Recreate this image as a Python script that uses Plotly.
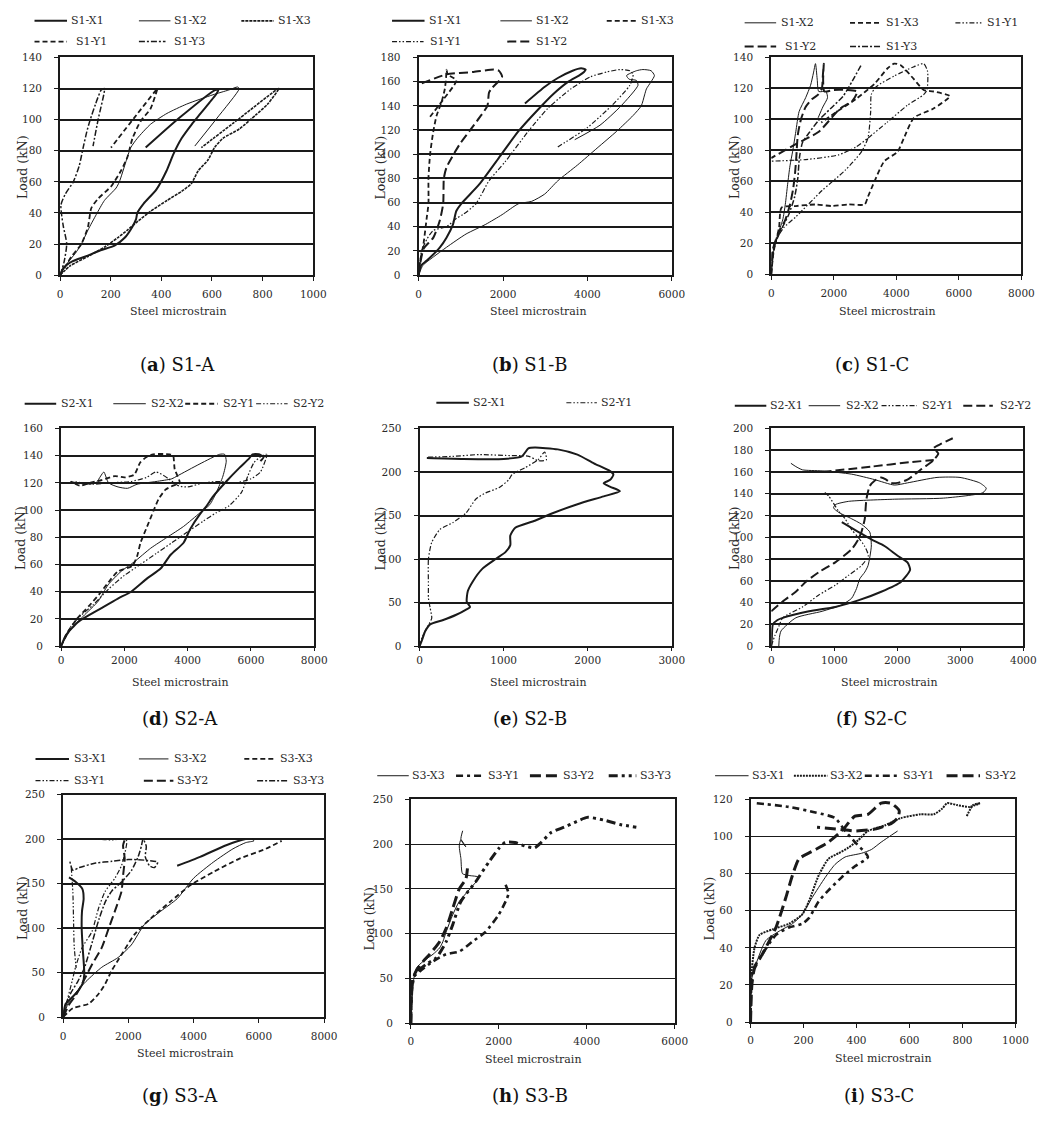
import plotly.graph_objects as go

W, H = 1060, 1129
FONT = "DejaVu Serif"
INK = "#1a1a1a"

# ---------------- (a) S1-A : load vs steel microstrain ----------------
s1a_x1 = [(0, 0), (15, 5), (50, 9), (100, 12), (160, 16), (215, 19), (255, 24), (285, 31), (300, 36),
          (305, 40), (330, 46), (380, 55), (420, 67), (448, 78), (480, 88), (520, 97), (555, 104),
          (590, 111), (615, 116), (625, 119), (612, 119), (470, 101), (338, 82)]
s1a_x2 = [(0, 0), (30, 8), (60, 14), (84, 20), (110, 29), (143, 39), (175, 48), (221, 56), (234, 60),
          (260, 73), (279, 82), (305, 88), (357, 97), (422, 104), (500, 110), (604, 116), (665, 119),
          (701, 121), (708, 120), (620, 101), (532, 83)]
s1a_x3 = [(0, 0), (40, 6), (110, 12), (175, 18), (227, 24), (266, 29), (310, 35), (357, 41), (422, 48),
          (481, 54), (519, 59), (545, 67), (584, 74), (610, 82), (643, 88), (708, 94), (773, 103),
          (820, 110), (864, 120), (710, 101), (558, 82)]
s1a_y1 = [(0, 0), (19, 5), (45, 12), (84, 20), (110, 31), (123, 43), (149, 49), (201, 57), (240, 67),
          (266, 76), (286, 88), (318, 99), (357, 107), (383, 119), (385, 120), (292, 101), (201, 82)]
s1a_y3 = [(0, 0), (15, 8), (26, 20), (12, 32), (3, 45), (20, 52), (52, 60), (75, 70), (91, 82),
          (105, 92), (117, 99), (140, 110), (162, 119), (175, 120), (150, 100), (130, 83)]

# ---------------- (b) S1-B ----------------
s1b_x1 = [(0, 0), (60, 8), (194, 12), (504, 23), (660, 31), (815, 42), (893, 53), (1009, 59), (1436, 75),
          (1902, 97), (2367, 119), (2833, 137), (3200, 150), (3550, 160), (3800, 165), (3920, 168),
          (3960, 170), (3850, 171), (3650, 169), (3300, 163), (3000, 156), (2520, 142)]
s1b_x2 = [(0, 0), (100, 8), (349, 15), (660, 23), (1125, 34), (1591, 42), (1979, 50), (2367, 59),
          (2678, 61), (2988, 67), (3299, 78), (3765, 91), (4230, 105), (4696, 119), (5084, 132),
          (5278, 140), (5356, 149), (5400, 154), (5511, 160), (5589, 165), (5511, 169), (5317, 170),
          (5162, 169), (4929, 165), (4990, 162), (5162, 161), (5200, 157), (4800, 140), (4300, 124),
          (3700, 112)]
s1b_x3 = [(0, 0), (40, 12), (116, 26), (194, 48), (233, 59), (233, 80), (272, 100), (349, 119),
          (427, 132), (543, 143), (621, 154), (650, 163), (660, 170), (690, 166), (893, 161),
          (580, 145), (272, 131)]
s1b_y1 = [(0, 0), (70, 20), (200, 30), (349, 37), (660, 40), (900, 47), (1048, 50), (1358, 59),
          (1669, 78), (2057, 94), (2600, 119), (3066, 138), (3610, 154), (4075, 164), (4463, 168),
          (4774, 170), (5006, 169), (5084, 166), (5006, 157), (4600, 141), (4000, 122), (3299, 106)]
s1b_y2 = [(0, 0), (40, 10), (120, 22), (349, 31), (500, 45), (582, 59), (598, 80), (660, 89), (970, 108),
          (1203, 119), (1436, 130), (1630, 140), (1669, 151), (1746, 155), (1979, 164), (1902, 169),
          (1785, 170), (1300, 168), (660, 166), (39, 158)]

# ---------------- (c) S1-C ----------------
s1c_x2 = [(0, 0), (50, 12), (200, 25), (367, 35), (450, 45), (524, 58), (600, 70), (682, 79), (786, 92),
          (891, 105), (1101, 114), (1258, 122), (1350, 130), (1415, 136), (1470, 126), (1520, 118),
          (1750, 118), (1800, 114), (1650, 108), (1500, 101)]
s1c_x3 = [(0, 0), (80, 15), (250, 30), (330, 43), (786, 44), (1415, 45), (1940, 44), (2464, 45),
          (2988, 45), (3093, 50), (3303, 60), (3617, 73), (4036, 79), (4246, 88), (4561, 101),
          (5190, 107), (5714, 115), (5190, 118), (4875, 119), (4561, 126), (4141, 135), (3931, 136),
          (3722, 133), (3303, 123), (2700, 113), (2100, 105), (1600, 98)]
s1c_y1 = [(0, 0), (100, 20), (400, 30), (786, 37), (1625, 54), (2359, 67), (2884, 79), (3093, 88),
          (3180, 105), (3198, 116), (3350, 121), (3931, 128), (4561, 134), (4875, 136), (5000, 131),
          (4980, 119), (4875, 116), (4351, 109), (3700, 98), (3100, 88), (2700, 82), (2150, 77),
          (1100, 74), (0, 73)]
s1c_y2 = [(0, 0), (40, 15), (200, 25), (450, 35), (600, 45), (700, 55), (760, 65), (800, 75), (850, 90),
          (950, 100), (1100, 108), (1300, 113), (1500, 116), (1620, 120), (1650, 128), (1680, 136),
          (1660, 125), (1700, 118), (2000, 119), (2400, 119), (2750, 118), (2600, 112), (2200, 107),
          (1520, 92), (786, 84), (0, 75)]
s1c_y3 = [(0, 0), (100, 18), (300, 28), (550, 38), (750, 50), (850, 62), (900, 75), (1000, 85),
          (1200, 91), (1500, 99), (1900, 107), (2300, 115), (2600, 125), (2900, 136)]

# ---------------- (d) S2-A ----------------
s2a_x1 = [(0, 0), (150, 8), (550, 18), (1276, 28), (1795, 35), (2210, 40), (2729, 50), (3144, 57),
          (3456, 67), (3871, 76), (4078, 86), (4389, 97), (4597, 103), (4804, 110), (5219, 121),
          (5634, 131), (5945, 138), (6048, 141), (6250, 141), (6400, 139), (6300, 136)]
s2a_x2 = [(0, 0), (300, 12), (700, 22), (1172, 33), (1484, 45), (1899, 55), (2314, 62), (2833, 72),
          (3351, 80), (3871, 88), (4389, 98), (4700, 104), (4908, 113), (5115, 125), (5219, 136),
          (5167, 141), (5011, 141), (4389, 134), (3663, 125), (3500, 123), (3000, 121), (2400, 119),
          (2100, 116), (1800, 117), (1500, 120), (1350, 128), (1250, 125), (1100, 120), (800, 119),
          (300, 121)]
s2a_y1 = [(0, 0), (200, 10), (500, 20), (900, 30), (1200, 38), (1500, 47), (1800, 55), (2250, 59),
          (2400, 66), (2510, 76), (2720, 88), (2930, 100), (3080, 108), (3300, 115), (3540, 118),
          (3750, 120), (3590, 130), (3540, 140), (3430, 141), (2910, 141), (2700, 139), (2500, 135),
          (2310, 126), (2000, 124), (1700, 125), (1280, 122), (900, 120), (600, 118), (300, 121)]
s2a_y2 = [(0, 0), (300, 14), (600, 22), (1000, 30), (1500, 42), (2000, 52), (2500, 60), (3000, 68),
          (3500, 76), (4000, 84), (4500, 92), (4900, 98), (5300, 103), (5700, 113), (5900, 125),
          (6100, 135), (6350, 140), (6500, 141), (6300, 128), (6000, 123), (5500, 120), (5000, 121),
          (4500, 120), (4000, 117), (3700, 118), (3400, 123), (3000, 128), (2700, 124), (2200, 121),
          (1500, 120), (1000, 119), (400, 121)]

# ---------------- (e) S2-B ----------------
s2b_x1 = [(0, 0), (25, 6), (66, 17), (125, 25), (281, 30), (436, 36), (553, 42), (600, 45), (561, 51),
          (573, 63), (631, 74), (748, 89), (904, 100), (1021, 108), (1079, 116), (1079, 127),
          (1138, 136), (1371, 144), (1566, 152), (1878, 163), (2190, 172), (2384, 178), (2270, 183),
          (2190, 187), (2267, 191), (2306, 197), (2267, 201), (2073, 210), (1878, 220), (1644, 226),
          (1371, 228), (1294, 227), (1216, 218), (1000, 215), (500, 215), (86, 216)]
s2b_y1 = [(0, 0), (30, 10), (86, 21), (144, 32), (125, 44), (105, 55), (105, 70), (105, 100),
          (144, 119), (242, 134), (397, 142), (553, 153), (670, 169), (787, 176), (943, 182),
          (1060, 191), (1099, 197), (1255, 205), (1410, 214), (1488, 223), (1508, 214), (1410, 213),
          (1300, 218), (1021, 219), (709, 220), (400, 218), (86, 217)]

# ---------------- (f) S2-C ----------------
s2c_x1 = [(0, 0), (10, 8), (26, 20), (100, 24), (182, 26), (599, 32), (1016, 36), (1380, 42),
          (1745, 50), (2057, 59), (2203, 70), (2161, 77), (2005, 83), (1797, 92), (1588, 98),
          (1380, 105), (1120, 114)]
s2c_x2 = [(120, 0), (130, 8), (156, 14), (390, 26), (807, 32), (1120, 38), (1276, 44), (1354, 53),
          (1406, 62), (1484, 68), (1536, 74), (1588, 92), (1562, 105), (1432, 112), (1276, 117),
          (1068, 123), (989, 127), (1016, 130), (1224, 133), (1953, 135), (2734, 136), (3359, 141),
          (3411, 145), (3307, 150), (2995, 155), (2630, 155), (2161, 150), (1953, 148), (1640, 153),
          (1276, 158), (807, 161), (495, 162), (390, 165), (312, 168)]
s2c_y1 = [(0, 0), (60, 10), (120, 18), (182, 26), (495, 36), (755, 47), (1016, 56), (1224, 65),
          (1432, 74), (1540, 83), (1480, 92), (1380, 100), (1276, 107), (1172, 117), (1068, 124),
          (911, 138), (833, 142)]
s2c_y2 = [(0, 32), (182, 41), (390, 50), (547, 59), (755, 68), (1016, 77), (1276, 89), (1380, 98),
          (1432, 105), (1484, 117), (1510, 135), (1562, 147), (1640, 152), (1745, 155), (1823, 153),
          (1901, 150), (2005, 150), (2161, 153), (2369, 162), (2578, 171), (2650, 177), (2580, 182),
          (2700, 186), (2880, 191), None, (807, 160), (1600, 165), (2200, 169), (2578, 171)]

# ---------------- (g) S3-A ----------------
s3a_x1 = [(0, 0), (80, 15), (382, 26), (600, 38), (650, 48), (600, 78), (570, 100), (580, 119),
          (630, 133), (590, 144), (382, 152), (181, 157), None, (3497, 170), (4200, 180),
          (5000, 193), (5600, 200), (5800, 200)]
s3a_x2 = [(0, 0), (150, 15), (400, 28), (700, 40), (1186, 56), (1688, 67), (2090, 81), (2492, 104),
          (2995, 119), (3497, 133), (4000, 156), (4603, 174), (5206, 189), (5600, 196), (5850, 198),
          (5800, 200)]
s3a_x3 = [(0, 0), (300, 10), (784, 15), (1085, 26), (1286, 37), (1487, 52), (1789, 70), (2191, 93),
          (2693, 111), (3296, 130), (3899, 148), (4603, 163), (5407, 178), (6211, 189), (6700, 198)]
s3a_y1 = [(0, 0), (100, 15), (281, 41), (382, 56), (583, 78), (884, 96), (1085, 122), (1286, 141),
          (1588, 156), (1789, 170), (1900, 185), (1950, 198), (1850, 200), (1500, 199), (1000, 200),
          None, (250, 168), (300, 140), (320, 110), (340, 80), (400, 55)]
s3a_y2 = [(0, 0), (200, 15), (400, 25), (633, 41), (900, 60), (1186, 78), (1400, 100), (1588, 119),
          (1789, 141), (1839, 159), (1889, 178), (1839, 193), (1900, 200)]
s3a_y3 = [(0, 0), (100, 15), (250, 28), (450, 40), (650, 55), (900, 85), (1100, 110), (1300, 130),
          (1500, 142), (1800, 152), (2100, 165), (2300, 180), (2400, 192), (2450, 200), (2550, 192),
          (2520, 180), (2650, 170), (2800, 168), (2900, 174), (2600, 176), (2000, 177), (1500, 175),
          (1000, 173), (500, 168), (300, 165), (200, 176)]

# ---------------- (h) S3-B ----------------
s3b_x3 = [(0, 0), (22, 25), (60, 47), (134, 62), (283, 69), (507, 77), (656, 84), (730, 91), (805, 102),
          (954, 121), (1103, 136), (1327, 149), (1550, 163), (1327, 165), (1177, 167), (1140, 184),
          (1103, 198), (1140, 205), (1252, 197), (1140, 205), (1180, 215)]
s3b_y1 = [(0, 0), (10, 30), (60, 51), (209, 58), (507, 69), (805, 77), (1103, 80), (1401, 91),
          (1699, 102), (1997, 121), (2184, 139), (2221, 145), (2146, 156)]
s3b_y2 = [(0, 0), (15, 30), (37, 47), (120, 58), (283, 69), (432, 77), (656, 91), (805, 106), (954, 128),
          (1103, 150), (1252, 161), (1289, 173)]
s3b_y3 = [(0, 0), (30, 40), (100, 55), (358, 66), (581, 73), (805, 91), (954, 110), (1140, 136),
          (1476, 158), (1774, 180), (1997, 195), (2146, 202), (2370, 202), (2594, 198), (2817, 196),
          (2966, 202), (3190, 213), (3488, 219), (3712, 224), (4011, 230), (4384, 227), (4756, 222),
          (5128, 219)]

# ---------------- (i) S3-C ----------------
s3c_x1 = [(0, 0), (2.5, 22), (15, 29), (58, 44), (108, 49), (158, 53), (195, 58), (232, 67), (282, 78),
          (319, 85), (357, 89), (419, 91), (456, 93), (493, 97), (555, 103)]
s3c_x2 = [(0, 0), (3, 25), (15, 40), (34, 47), (83, 50), (145, 53), (195, 58), (220, 65), (257, 79),
          (294, 88), (332, 91), (369, 94), (406, 98), (443, 103), (506, 106), (568, 110), (642, 112),
          (692, 112), (723, 115), (742, 118), (779, 117), (827, 116), (866, 118), None, (816, 111),
          (840, 117), (866, 118)]
s3c_y1 = [(0, 0), (9, 28), (46, 37), (96, 47), (145, 51), (195, 53), (220, 56), (257, 65), (294, 71),
          (344, 78), (394, 84), (443, 89), (394, 97), (357, 103), (319, 110), (245, 113), (145, 116),
          (21, 118)]
s3c_y2 = [(0, 0), (5, 20), (15, 29), (46, 37), (96, 51), (133, 67), (158, 79), (183, 88), (232, 92),
          (294, 97), (344, 103), (394, 111), (443, 112), (493, 118), (530, 118), (561, 114), (555, 110),
          (530, 107), (468, 104), (394, 103), (332, 104), (251, 105)]

# line styles used by the series and their legend keys
LINE = {
    "thick": dict(width=2.0, dash="solid"),
    "thin": dict(width=1.0, dash="solid"),
    "fine": dict(width=1.6, dash="3px,1px"),
    "dash": dict(width=1.8, dash="5px,3px"),
    "dashdot": dict(width=1.5, dash="6px,2px,2px,2px"),
    "dashdotdot": dict(width=1.2, dash="5px,2px,1.5px,2px,1.5px,2px"),
    "longdash": dict(width=2.0, dash="9px,4px"),
    "dot": dict(width=2.0, dash="2px,1px"),
    "hdashdot": dict(width=2.6, dash="7px,4px,3px,4px"),
    "hlongdash": dict(width=3.0, dash="11px,5px"),
    "hdashdotdot": dict(width=3.0, dash="9px,4px,3px,4px,3px,4px"),
}

panels = [
    dict(box=(58, 52, 315, 272), xr=(1000, 200), yr=(140, 20), grid=2, frame=2, xs=4, tl=4,
         series=[("S1-X1", s1a_x1, "thick"), ("S1-X2", s1a_x2, "thin"), ("S1-X3", s1a_x3, "fine"),
                 ("S1-Y1", s1a_y1, "dash"), ("S1-Y3", s1a_y3, "dashdot")],
         legend=[(15, [("S1-X1", "thick", 32, 65, 67), ("S1-X2", "thin", 138, 170, 172),
                       ("S1-X3", "fine", 242, 275, 277)]),
                 (36, [("S1-Y1", "dash", 32, 65, 72), ("S1-Y3", "dashdot", 138, 165, 172)])],
         cap=("a", "S1-A", 177, 362), xt=(178, 309), yt=(20, 163)),
    dict(box=(422, 52, 679, 272), xr=(6000, 2000), yr=(180, 20), grid=2, frame=2, xs=4, tl=4,
         series=[("S1-X1", s1b_x1, "thick"), ("S1-X2", s1b_x2, "thin"), ("S1-X3", s1b_x3, "dash"),
                 ("S1-Y1", s1b_y1, "dashdotdot"), ("S1-Y2", s1b_y2, "longdash")],
         legend=[(15, [("S1-X1", "thick", 395, 428, 430), ("S1-X2", "thin", 505, 537, 539),
                       ("S1-X3", "dash", 613, 643, 646)]),
                 (36, [("S1-Y1", "dashdotdot", 395, 427, 432), ("S1-Y2", "longdash", 512, 537, 539)])],
         cap=("b", "S1-B", 535, 362), xt=(543, 309), yt=(383, 163)),
    dict(box=(780, 52, 1034, 271), xr=(8000, 2000), yr=(140, 20), grid=2, frame=2, xs=4, tl=4,
         series=[("S1-X2", s1c_x2, "thin"), ("S1-X3", s1c_x3, "dash"), ("S1-Y1", s1c_y1, "dashdotdot"),
                 ("S1-Y2", s1c_y2, "longdash"), ("S1-Y3", s1c_y3, "dashdot")],
         legend=[(17, [("S1-X2", "thin", 753, 785, 788), ("S1-X3", "dash", 860, 892, 895),
                       ("S1-Y1", "dashdotdot", 967, 995, 997)]),
                 (41, [("S1-Y2", "longdash", 753, 785, 792), ("S1-Y3", "dashdot", 860, 892, 895)])],
         cap=("c", "S1-C", 882, 362), xt=(898, 309), yt=(742, 163)),
    dict(box=(59, 427, 316, 647), xr=(8000, 2000), yr=(160, 20), grid=2, frame=2, xs=0, tl=3,
         series=[("S2-X1", s2a_x1, "thick"), ("S2-X2", s2a_x2, "thin"), ("S2-Y1", s2a_y1, "dash"),
                 ("S2-Y2", s2a_y2, "dashdotdot")],
         legend=[(402, [("S2-X1", "thick", 22, 54, 57), ("S2-X2", "thin", 112, 145, 148),
                        ("S2-Y1", "dash", 185, 218, 221), ("S2-Y2", "dashdotdot", 257, 289, 292)])],
         cap=("d", "S2-A", 180, 720), xt=(180, 684), yt=(18, 538)),
    dict(box=(423, 427, 679, 647), xr=(3000, 1000), yr=(250, 50), grid=2, frame=2, xs=0, tl=3,
         series=[("S2-X1", s2b_x1, "thick"), ("S2-Y1", s2b_y1, "dashdotdot")],
         legend=[(401, [("S2-X1", "thick", 440, 473, 475), ("S2-Y1", "dashdotdot", 572, 603, 605)])],
         cap=("e", "S2-B", 535, 720), xt=(543, 684), yt=(383, 538)),
    dict(box=(780, 427, 1036, 647), xr=(4000, 1000), yr=(200, 20), grid=2, frame=2, xs=0, tl=3,
         series=[("S2-X1", s2c_x1, "thick"), ("S2-X2", s2c_x2, "thin"), ("S2-Y1", s2c_y1, "dashdotdot"),
                 ("S2-Y2", s2c_y2, "longdash")],
         legend=[(404, [("S2-X1", "thick", 743, 775, 777), ("S2-X2", "thin", 818, 850, 854),
                        ("S2-Y1", "dashdotdot", 892, 928, 931), ("S2-Y2", "longdash", 975, 1005, 1010)])],
         cap=("f", "S2-C", 882, 720), xt=(900, 684), yt=(742, 538)),
    dict(box=(61, 797, 326, 1022), xr=(8000, 2000), yr=(250, 50), grid=2, frame=2, xs=4, tl=4,
         series=[("S3-X1", s3a_x1, "thick"), ("S3-X2", s3a_x2, "thin"), ("S3-X3", s3a_x3, "dash"),
                 ("S3-Y1", s3a_y1, "dashdotdot"), ("S3-Y2", s3a_y2, "longdash"),
                 ("S3-Y3", s3a_y3, "dashdot")],
         legend=[(761, [("S3-X1", "thick", 33, 67, 70), ("S3-X2", "thin", 138, 168, 172),
                        ("S3-X3", "dash", 245, 277, 279)]),
                 (783, [("S3-Y1", "dashdotdot", 33, 67, 70), ("S3-Y2", "longdash", 143, 173, 175),
                        ("S3-Y3", "dashdot", 258, 290, 292)])],
         cap=("g", "S3-A", 180, 1101), xt=(185, 1059), yt=(20, 912)),
    dict(box=(414, 802, 682, 1028), xr=(6000, 2000), yr=(250, 50), grid=1, frame=1.5, xs=4, tl=4,
         series=[("S3-X3", s3b_x3, "thin"), ("S3-Y1", s3b_y1, "hdashdot"), ("S3-Y2", s3b_y2, "hlongdash"),
                 ("S3-Y3", s3b_y3, "hdashdotdot")],
         legend=[(778, [("S3-X3", "thin", 380, 412, 413), ("S3-Y1", "hdashdot", 460, 487, 490),
                        ("S3-Y2", "hlongdash", 535, 563, 567), ("S3-Y3", "hdashdotdot", 615, 643, 645)])],
         cap=("h", "S3-B", 535, 1101), xt=(538, 1065), yt=(372, 922)),
    dict(box=(759, 802, 1028, 1027), xr=(1000, 200), yr=(120, 20), grid=1, frame=1.5, xs=4, tl=4,
         series=[("S3-X1", s3c_x1, "thin"), ("S3-X2", s3c_x2, "dot"), ("S3-Y1", s3c_y1, "hdashdot"),
                 ("S3-Y2", s3c_y2, "hlongdash")],
         legend=[(778, [("S3-X1", "thin", 723, 757, 758), ("S3-X2", "dot", 803, 837, 838),
                        ("S3-Y1", "hdashdot", 875, 910, 912), ("S3-Y2", "hlongdash", 958, 992, 995)])],
         cap=("i", "S3-C", 889, 1101), xt=(893, 1064), yt=(717, 912)),
]


def px(x):
    return x / W


def py(y):
    return 1 - y / H


def split(points):
    xs, ys = [], []
    for p in points:
        if p is None:
            xs.append(None)
            ys.append(None)
        else:
            xs.append(p[0])
            ys.append(p[1])
    return xs, ys


fig = go.Figure()
shapes, annotations = [], []
layout = dict(width=W, height=H, margin=dict(l=0, r=0, t=0, b=0),
              paper_bgcolor="white", plot_bgcolor="white", showlegend=False,
              font=dict(family=FONT, color=INK, size=10))

for i, p in enumerate(panels, start=1):
    sfx = "" if i == 1 else str(i)
    x0, y0, x1, y1 = p["box"]
    xmax, xstep = p["xr"]
    ymax, ystep = p["yr"]
    for name, pts, style in p["series"]:
        xs, ys = split(pts)
        fig.add_trace(go.Scatter(x=xs, y=ys, mode="lines", name=name,
                                 line=dict(color=INK, shape="spline", smoothing=0.6, **LINE[style]),
                                 xaxis="x" + sfx, yaxis="y" + sfx, hoverinfo="skip"))
    layout["xaxis" + sfx] = dict(
        domain=[px(x0), px(x1)], range=[0, xmax], tick0=0, dtick=xstep, anchor="y" + sfx,
        showline=True, linecolor=INK, linewidth=p["frame"], mirror=True, showgrid=False,
        zeroline=False, ticks="outside", ticklen=p["tl"], tickcolor=INK, ticklabelstandoff=p["xs"],
        tickfont=dict(family=FONT, size=10.5, color="#2a2a2a"))
    layout["yaxis" + sfx] = dict(
        domain=[py(y1), py(y0)], range=[0, ymax], tick0=0, dtick=ystep, anchor="x" + sfx,
        showline=True, linecolor=INK, linewidth=p["frame"], mirror=True, showgrid=True,
        gridcolor=INK, gridwidth=p["grid"], zeroline=False, ticks="outside", ticklen=4,
        tickcolor=INK, ticklabelstandoff=10, tickfont=dict(family=FONT, size=10.5, color="#2a2a2a"))

    # legend keys drawn above each chart
    for ly, entries in p["legend"]:
        for name, style, sx0, sx1, tx in entries:
            shapes.append(dict(type="line", xref="paper", yref="paper",
                               x0=px(sx0), x1=px(sx1), y0=py(ly), y1=py(ly),
                               line=dict(color=INK, **LINE[style])))
            annotations.append(dict(text=name, x=px(tx), y=py(ly), xref="paper", yref="paper",
                                    xanchor="left", yanchor="middle", showarrow=False,
                                    font=dict(family=FONT, size=11, color="#2a2a2a")))

    letter, label, cx, cy = p["cap"]
    annotations.append(dict(text=f"(<b>{letter}</b>) {label}", x=px(cx), y=py(cy),
                            xref="paper", yref="paper", xanchor="center", yanchor="middle",
                            showarrow=False, font=dict(family=FONT, size=18, color="#111")))
    annotations.append(dict(text="Steel microstrain", x=px(p["xt"][0]), y=py(p["xt"][1]),
                            xref="paper", yref="paper", xanchor="center", yanchor="middle",
                            showarrow=False, font=dict(family=FONT, size=11, color="#2a2a2a")))
    annotations.append(dict(text="Load (kN)", x=px(p["yt"][0]), y=py(p["yt"][1]), textangle=-90,
                            xref="paper", yref="paper", xanchor="center", yanchor="middle",
                            showarrow=False, font=dict(family=FONT, size=12.5, color="#2a2a2a")))

layout["shapes"] = shapes
layout["annotations"] = annotations
fig.update_layout(**layout)
fig.write_html("out.html")
